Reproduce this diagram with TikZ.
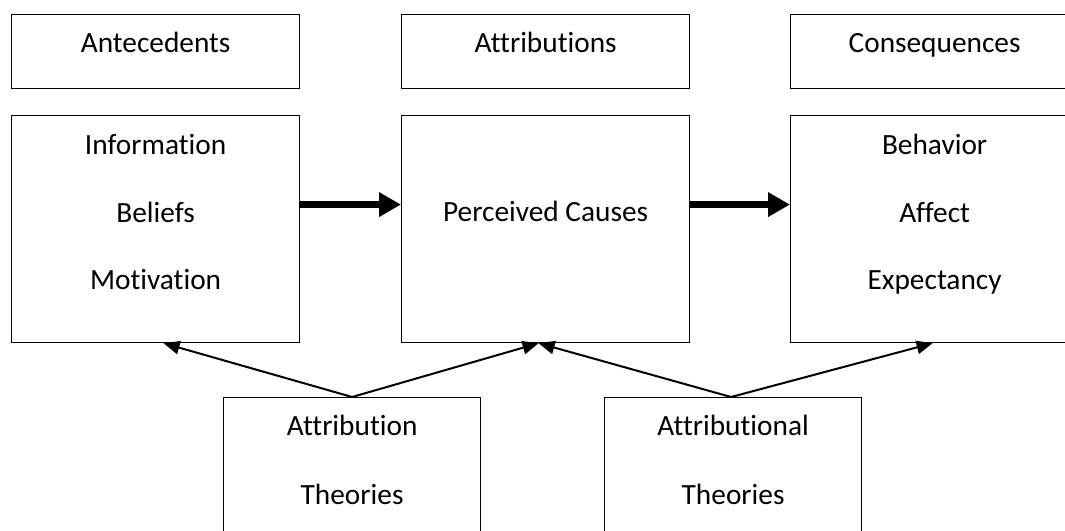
\documentclass[tikz,border=0pt]{standalone}
\usepackage{fontspec}
\setmainfont{Carlito}[Ligatures=NoCommon]
\usepackage{tikz}
\usetikzlibrary{arrows.meta}
\usetikzlibrary{positioning}

\tikzset{
    box/.style={
        rectangle, anchor=north west,
        draw=black, line width=0.9pt,
        minimum width=216pt,
    },
    lbl/.style={
        anchor=base, inner sep=0pt,
        font=\fontsize{22}{26}\selectfont,
    },
    bigarrow/.style={
        line width=5pt,
        -{Triangle[length=16.5pt, width=17.5pt]},
    },
    thinarrow/.style={
        line width=1.5pt,
        -{Triangle[length=12pt, width=10pt]},
    },
}

\begin{document}
\begin{tikzpicture}[x=0.75pt, y=-0.75pt]
        \clip (0,0) rectangle (1065,531);

        % header row
        \node (antehead) at(11,14) [box, minimum height=55.5pt] {};
        \node (attrhead) at(401,14) [box, minimum height=55.5pt] {};
        \node (conshead) at(790,14) [box, minimum height=55.5pt] {};

        \node (antetext) at([yshift=-29.25pt]antehead.north) [lbl] {Antecedents};
        \node (attrtext) at([yshift=-29.25pt]attrhead.north) [lbl] {Attributions};
        \node (constext) at([yshift=-29.25pt]conshead.north) [lbl] {Consequences};

        % main row
        \node (info) at(11,115) [box, minimum height=170.25pt] {};
        \node (cause) at(401,115) [box, minimum height=170.25pt] {};
        \node (behav) at(790,115) [box, minimum height=170.25pt] {};

        \node (infoa) at([yshift=-30pt]info.north) [lbl] {Information};
        \node (infob) at([yshift=-81pt]info.north) [lbl] {Beliefs};
        \node (infoc) at([yshift=-131.25pt]info.north) [lbl] {Motivation};

        \node (causea) at([yshift=-80.25pt]cause.north) [lbl] {Perceived Causes};

        \node (behava) at([yshift=-30pt]behav.north) [lbl] {Behavior};
        \node (behavb) at([yshift=-81pt]behav.north) [lbl] {Affect};
        \node (behavc) at([yshift=-131.25pt]behav.north) [lbl] {Expectancy};

        % theories
        \node (theo) at(223,397) [box, minimum width=192.75pt, minimum height=150pt] {};
        \node (theoal) at(604,397) [box, minimum width=192.75pt, minimum height=150pt] {};

        \node (theoa) at([yshift=-28.5pt]theo.north) [lbl] {Attribution};
        \node (theob) at([yshift=-80.25pt]theo.north) [lbl] {Theories};
        \node (theoala) at([yshift=-28.5pt]theoal.north) [lbl] {Attributional};
        \node (theoalb) at([yshift=-80.25pt]theoal.north) [lbl] {Theories};

        % connectors
        \draw[bigarrow] ([yshift=18.4pt]info.east) -- ([yshift=18.4pt]cause.west);
        \draw[bigarrow] ([yshift=18.4pt]cause.east) -- ([yshift=18.4pt]behav.west);

        \draw[thinarrow] (theo.north) -- ([xshift=6pt]info.south);
        \draw[thinarrow] (theo.north) -- ([xshift=-5.25pt]cause.south);
        \draw[thinarrow] ([xshift=-1.5pt]theoal.north) -- ([xshift=-5.25pt]cause.south);
        \draw[thinarrow] ([xshift=-1.5pt]theoal.north) -- ([xshift=-1.5pt]behav.south);
    \end{tikzpicture}
\end{document}
